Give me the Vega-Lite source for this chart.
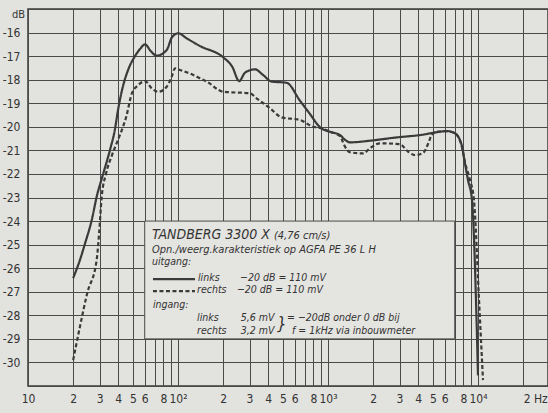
{
  "$schema": "https://vega.github.io/schema/vega-lite/v6.json",
  "width": 520,
  "height": 377,
  "autosize": "none",
  "padding": {"left": 28, "top": 9, "right": 0, "bottom": 27},
  "background": "#e2e2de",
  "config": {
    "view": {"stroke": "#3a3a3a", "strokeWidth": 1.5},
    "font": "Liberation Sans Narrow, DejaVu Sans Condensed, Roboto, sans-serif",
    "axis": {
      "gridColor": "#4a4a4a", "gridWidth": 1, "gridOpacity": 1,
      "domain": false, "ticks": false, "tickSize": 0,
      "labelFont": "Liberation Sans Narrow, DejaVu Sans Condensed, Roboto, sans-serif",
      "labelFontSize": 12, "labelColor": "#333333"
    }
  },
  "encoding": {
    "x": {
      "field": "f", "type": "quantitative",
      "scale": {"type": "log", "domain": [10, 29300], "nice": false},
      "axis": {
        "title": null,
        "values": [10,20,30,40,50,60,70,80,90,100,200,300,400,500,600,700,800,900,1000,2000,3000,4000,5000,6000,7000,8000,9000,10000,20000],
        "labelExpr": "datum.value==10?'10':datum.value==100?'10²':datum.value==1000?'10³':datum.value==10000?'10⁴':datum.value==20000?'2 Hz':(indexof([70,90,700,900,7000,9000],datum.value)>=0?'':substring(toString(datum.value),0,1))",
        "labelAlign": {"condition": {"test": "datum.value == 20000", "value": "left"}, "value": "center"},
        "labelPadding": 7, "labelFlush": false, "labelOverlap": false
      }
    },
    "y": {
      "field": "db", "type": "quantitative",
      "scale": {"domain": [-31, -15], "nice": false, "zero": false},
      "axis": {
        "values": [-31,-30,-29,-28,-27,-26,-25,-24,-23,-22,-21,-20,-19,-18,-17,-16,-15],
        "labelExpr": "(datum.value==-15||datum.value==-31)?'':toString(datum.value)",
        "labelPadding": 8,
        "title": "dB", "titleAngle": 0, "titleX": -10, "titleY": 5,
        "titleAlign": "center", "titleBaseline": "middle",
        "titleFont": "Liberation Sans Narrow, DejaVu Sans Condensed, Roboto, sans-serif",
        "titleFontSize": 11, "titleFontWeight": "normal", "titleColor": "#333333"
      }
    }
  },
  "layer": [
    {
      "data": {"values": [{"f": 60, "f2": 7000, "db": -29, "db2": -24}]},
      "mark": {"type": "rect", "fill": "#e4e4e0", "stroke": "#4a4a4a", "strokeWidth": 1},
      "encoding": {"x2": {"field": "f2"}, "y2": {"field": "db2"}}
    },
    {
      "data": {"values": [
        {"s":"links","f":20,"db":-26.42},{"s":"links","f":22.2,"db":-25.65},{"s":"links","f":24.0,"db":-24.95},
        {"s":"links","f":26.6,"db":-23.96},{"s":"links","f":28.7,"db":-22.97},{"s":"links","f":31.8,"db":-21.97},
        {"s":"links","f":35.2,"db":-20.98},{"s":"links","f":38.0,"db":-20.1},{"s":"links","f":39.8,"db":-19.3},
        {"s":"links","f":42.5,"db":-18.4},{"s":"links","f":46.4,"db":-17.6},{"s":"links","f":51.7,"db":-17.0},
        {"s":"links","f":55.8,"db":-16.7},
        {"s":"links","f":60.3,"db":-16.5},{"s":"links","f":66.1,"db":-16.8},{"s":"links","f":72.1,"db":-16.98},
        {"s":"links","f":84.1,"db":-16.74},{"s":"links","f":91.2,"db":-16.2},{"s":"links","f":100.5,"db":-16.03},
        {"s":"links","f":114,"db":-16.24},{"s":"links","f":140,"db":-16.57},{"s":"links","f":200,"db":-17.05},
        {"s":"links","f":230,"db":-17.45},{"s":"links","f":256,"db":-18.06},{"s":"links","f":280,"db":-17.7},
        {"s":"links","f":326,"db":-17.56},{"s":"links","f":369,"db":-17.8},{"s":"links","f":421,"db":-18.08},
        {"s":"links","f":530,"db":-18.13},{"s":"links","f":650,"db":-18.89},{"s":"links","f":759,"db":-19.46},
        {"s":"links","f":885,"db":-20.02},{"s":"links","f":1031,"db":-20.21},{"s":"links","f":1202,"db":-20.35},
        {"s":"links","f":1298,"db":-20.55},{"s":"links","f":1402,"db":-20.66},{"s":"links","f":1905,"db":-20.59},
        {"s":"links","f":2870,"db":-20.45},{"s":"links","f":4105,"db":-20.35},{"s":"links","f":5580,"db":-20.21},
        {"s":"links","f":6186,"db":-20.18},{"s":"links","f":7030,"db":-20.28},{"s":"links","f":7780,"db":-20.77},
        {"s":"links","f":8190,"db":-21.55},{"s":"links","f":8580,"db":-22.26},{"s":"links","f":9120,"db":-23.1},
        {"s":"links","f":9700,"db":-27.35},{"s":"links","f":10000,"db":-30.55},
        {"s":"rechts","f":20,"db":-29.9},{"s":"rechts","f":22.2,"db":-28.48},{"s":"rechts","f":24.8,"db":-27.07},
        {"s":"rechts","f":28.7,"db":-25.65},{"s":"rechts","f":29.8,"db":-24.5},{"s":"rechts","f":31.0,"db":-22.97},
        {"s":"rechts","f":33.1,"db":-22.0},{"s":"rechts","f":36.3,"db":-21.2},{"s":"rechts","f":39.8,"db":-20.56},
        {"s":"rechts","f":43.0,"db":-20.0},{"s":"rechts","f":45.5,"db":-19.5},{"s":"rechts","f":47.9,"db":-18.86},
        {"s":"rechts","f":49.1,"db":-18.6},{"s":"rechts","f":54.3,"db":-18.23},{"s":"rechts","f":60.3,"db":-18.06},
        {"s":"rechts","f":66.8,"db":-18.37},{"s":"rechts","f":73.9,"db":-18.51},{"s":"rechts","f":84.1,"db":-18.3},
        {"s":"rechts","f":90.8,"db":-17.87},{"s":"rechts","f":95.5,"db":-17.52},{"s":"rechts","f":103.2,"db":-17.59},
        {"s":"rechts","f":126.5,"db":-17.8},{"s":"rechts","f":140,"db":-17.94},{"s":"rechts","f":155.4,"db":-18.08},
        {"s":"rechts","f":200,"db":-18.51},{"s":"rechts","f":302,"db":-18.58},{"s":"rechts","f":334,"db":-18.79},
        {"s":"rechts","f":410,"db":-19.21},{"s":"rechts","f":491,"db":-19.6},{"s":"rechts","f":650,"db":-19.71},
        {"s":"rechts","f":798,"db":-20.0},{"s":"rechts","f":885,"db":-20.05},{"s":"rechts","f":1031,"db":-20.21},
        {"s":"rechts","f":1202,"db":-20.4},{"s":"rechts","f":1298,"db":-20.84},{"s":"rechts","f":1402,"db":-21.08},
        {"s":"rechts","f":1719,"db":-21.13},{"s":"rechts","f":1905,"db":-20.91},{"s":"rechts","f":2222,"db":-20.7},
        {"s":"rechts","f":3020,"db":-20.74},{"s":"rechts","f":3430,"db":-21.06},{"s":"rechts","f":3802,"db":-21.2},
        {"s":"rechts","f":4318,"db":-21.1},{"s":"rechts","f":4665,"db":-20.7},{"s":"rechts","f":4910,"db":-20.35},
        {"s":"rechts","f":5305,"db":-20.21},{"s":"rechts","f":6186,"db":-20.18},{"s":"rechts","f":7030,"db":-20.28},
        {"s":"rechts","f":7780,"db":-20.8},{"s":"rechts","f":8190,"db":-21.5},{"s":"rechts","f":8850,"db":-22.26},
        {"s":"rechts","f":9400,"db":-23.1},{"s":"rechts","f":10160,"db":-27.35},{"s":"rechts","f":10800,"db":-30.75}
      ]},
      "mark": {"type": "line", "color": "#3a3a3a", "strokeWidth": 2.2, "interpolate": "monotone"},
      "encoding": {
        "strokeDash": {"field": "s", "type": "nominal", "scale": {"domain": ["links", "rechts"], "range": [[1, 0], [4, 2.5]]}, "legend": null}
      }
    },
    {
      "data": {"values": [
        {"s":"links","f":68.1,"db":-26.46},{"s":"links","f":129.8,"db":-26.46},
        {"s":"rechts","f":68.1,"db":-26.97},{"s":"rechts","f":129.8,"db":-26.97}
      ]},
      "mark": {"type": "line", "color": "#3a3a3a", "strokeWidth": 2.2},
      "encoding": {
        "strokeDash": {"field": "s", "type": "nominal", "scale": {"domain": ["links", "rechts"], "range": [[1, 0], [4, 2.5]]}, "legend": null}
      }
    },
    {
      "data": {"values": [{"f": 67.1, "db": -24.76, "t": "TANDBERG 3300 X"}]},
      "mark": {"type": "text", "align": "left", "baseline": "alphabetic", "fontSize": 14, "fontStyle": "italic", "color": "#333333"},
      "encoding": {"text": {"field": "t"}}
    },
    {
      "data": {"values": [
        {"f": 436, "db": -24.76, "t": "(4,76 cm/s)"},
        {"f": 67.1, "db": -25.36, "t": "Opn./weerg.karakteristiek op AGFA PE 36 L H"}
      ]},
      "mark": {"type": "text", "align": "left", "baseline": "alphabetic", "fontSize": 11, "fontStyle": "italic", "color": "#333333"},
      "encoding": {"text": {"field": "t"}}
    },
    {
      "data": {"values": [
        {"f": 67.1, "db": -25.87, "t": "uitgang:"},
        {"f": 135.9, "db": -26.55, "t": "links"},
        {"f": 259, "db": -26.55, "t": "−20 dB = 110 mV"},
        {"f": 133.9, "db": -27.05, "t": "rechts"},
        {"f": 247, "db": -27.05, "t": "−20 dB = 110 mV"},
        {"f": 68.1, "db": -27.69, "t": "ingang:"},
        {"f": 133.9, "db": -28.24, "t": "links"},
        {"f": 262, "db": -28.24, "t": "5,6 mV"},
        {"f": 533, "db": -28.24, "t": "= −20dB onder 0 dB bij"},
        {"f": 133.9, "db": -28.79, "t": "rechts"},
        {"f": 262, "db": -28.79, "t": "3,2 mV"},
        {"f": 575, "db": -28.79, "t": "f = 1kHz via inbouwmeter"}
      ]},
      "mark": {"type": "text", "align": "left", "baseline": "alphabetic", "fontSize": 10.5, "fontStyle": "italic", "color": "#333333"},
      "encoding": {"text": {"field": "t"}}
    },
    {
      "data": {"values": [{"f": 457, "db": -28.39, "t": "}"}]},
      "mark": {"type": "text", "align": "left", "baseline": "middle", "fontSize": 17, "fontStyle": "italic", "color": "#333333"},
      "encoding": {"text": {"field": "t"}}
    }
  ]
}
